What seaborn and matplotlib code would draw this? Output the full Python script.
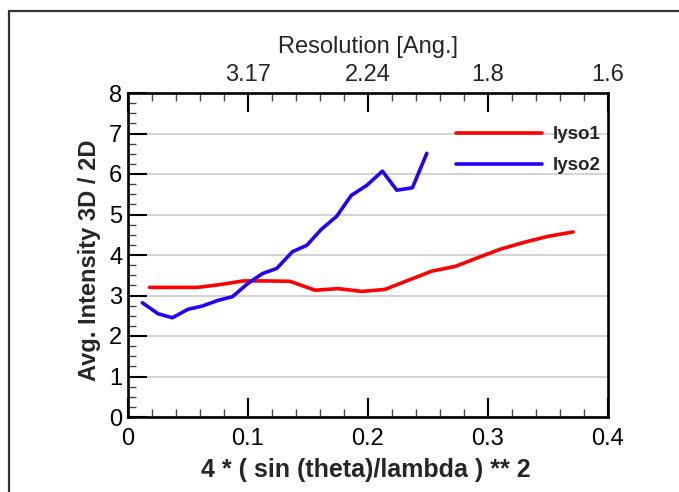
import matplotlib
matplotlib.use("Agg")
import matplotlib.pyplot as plt
from matplotlib.lines import Line2D
from matplotlib.ticker import MultipleLocator
import seaborn as sns
import pandas as pd

# ---- data ----
lyso1_x = [0.018, 0.038, 0.058, 0.077, 0.096, 0.116, 0.135, 0.156, 0.175, 0.195,
           0.214, 0.234, 0.253, 0.273, 0.292, 0.311, 0.331, 0.350, 0.371]
lyso1_y = [3.20, 3.20, 3.20, 3.27, 3.36, 3.36, 3.35, 3.13, 3.17, 3.10,
           3.15, 3.38, 3.60, 3.72, 3.94, 4.15, 4.32, 4.46, 4.57]
lyso2_x = [0.012, 0.025, 0.037, 0.050, 0.062, 0.075, 0.087, 0.100, 0.112, 0.124,
           0.137, 0.149, 0.161, 0.174, 0.186, 0.199, 0.212, 0.224, 0.237, 0.249]
lyso2_y = [2.82, 2.55, 2.45, 2.66, 2.74, 2.88, 2.97, 3.30, 3.54, 3.67,
           4.08, 4.24, 4.63, 4.96, 5.47, 5.72, 6.07, 5.60, 5.66, 6.51]
series_names = ["lyso1", "lyso2"]
bottom_tick_pos = [0, 0.1, 0.2, 0.3, 0.4]
bottom_tick_labels = ["0", "0.1", "0.2", "0.3", "0.4"]
top_tick_pos = [0.1, 0.2, 0.3, 0.4]
top_tick_labels = ["3.17", "2.24", "1.8", "1.6"]

df = pd.concat([
    pd.DataFrame({"x": lyso1_x, "y": lyso1_y, "series": series_names[0]}),
    pd.DataFrame({"x": lyso2_x, "y": lyso2_y, "series": series_names[1]}),
])

sns.set_style("white")
plt.rcParams["font.family"] = ["Liberation Sans", "DejaVu Sans"]

fig = plt.figure(figsize=(6.79, 4.92), dpi=100)
ax = fig.add_axes([128 / 679, 75 / 492, 480 / 679, 324 / 492])

sns.lineplot(data=df, x="x", y="y", hue="series", sort=False,
             palette={"lyso1": "#ff0000", "lyso2": "#2200ff"},
             linewidth=2.6, ax=ax, legend=False, solid_capstyle="round")

ax.set_xlim(0, 0.4)
ax.set_ylim(0, 8)
ax.xaxis.set_minor_locator(MultipleLocator(0.02))
ax.yaxis.set_major_locator(MultipleLocator(1))
ax.yaxis.set_minor_locator(MultipleLocator(0.25))
ax.set_xticks(bottom_tick_pos)
ax.set_xticklabels(bottom_tick_labels)

ax.grid(axis="y", which="major", color="#cccccc", linewidth=1.2)
ax.set_axisbelow(True)

for s in ax.spines.values():
    s.set_visible(True)
    s.set_color("black")
    s.set_linewidth(1.9)

ax.tick_params(axis="both", which="major", direction="in", length=14, width=1.5,
               color="black", labelsize=17, labelcolor="black")
ax.tick_params(axis="both", which="minor", direction="in", length=6, width=1.0,
               color="#444444")
ax.tick_params(axis="x", which="both", top=True, bottom=True, pad=8)
ax.tick_params(axis="y", which="both", left=True, right=False, pad=4)

ax.set_xlabel("4 * ( sin (theta)/lambda ) ** 2", fontsize=18, fontweight="bold")
ax.xaxis.set_label_coords(0.496, -0.125)
ax.set_ylabel("Avg. Intensity 3D / 2D", fontsize=17, fontweight="bold")
ax.yaxis.set_label_coords(-0.056, 0.485)

# top axis
axt = ax.secondary_xaxis("top")
axt.set_xticks(top_tick_pos)
axt.set_xticklabels(top_tick_labels)
axt.tick_params(axis="x", which="both", length=0, labelsize=17, pad=5)
axt.spines["top"].set_visible(False)
axt.set_xlabel("Resolution [Ang.]", fontsize=17, labelpad=8)

# legend
handles = [Line2D([0], [0], color="#ff0000", lw=2.6, solid_capstyle="round"),
           Line2D([0], [0], color="#2200ff", lw=2.6, solid_capstyle="round")]
leg = ax.legend(handles, series_names, loc="upper left",
                bbox_to_anchor=(0.683, 0.897), frameon=False, borderpad=0,
                borderaxespad=0, handlelength=4.6, handletextpad=0.55,
                labelspacing=0.72, prop={"weight": "bold", "size": 13.5})

# figure frame
fig.add_artist(Line2D([9 / 679, 1.0], [1 - 11 / 492, 1 - 11 / 492],
                      transform=fig.transFigure, color="#333333", lw=1.6))
fig.add_artist(Line2D([9 / 679, 9 / 679], [0, 1 - 11 / 492],
                      transform=fig.transFigure, color="#333333", lw=1.6))

fig.savefig("out.png", dpi=100)
